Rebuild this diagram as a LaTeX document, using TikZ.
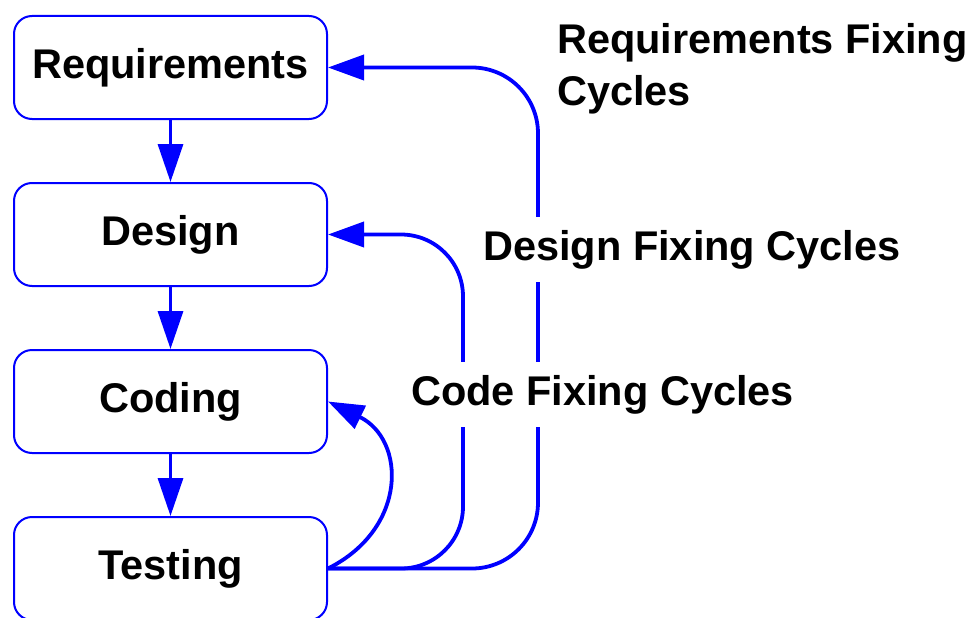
\documentclass[tikz,border=0pt]{standalone}
\usepackage{fontspec}
\setmainfont{Liberation Sans}
\usetikzlibrary{arrows.meta}
\begin{document}
\begin{tikzpicture}[x=1pt,y=-1pt,
  stage/.style={draw=blue, line width=2pt, rounded corners=18pt, minimum width=313pt, minimum height=103pt, inner sep=0pt,
    font=\bfseries\fontsize{41.5}{52}\selectfont},
  downarrow/.style={blue, line width=3.3pt, -{Triangle[length=38pt,width=25pt]}},
  fixarrow/.style={blue, line width=3.8pt, -{Triangle[length=36pt,width=25pt]}},
  cyclelabel/.style={fill=white, inner xsep=4pt, inner ysep=13pt, anchor=base west,
    font=\bfseries\fontsize{41.5}{52}\selectfont}]
\useasboundingbox (0,0) rectangle (974,618);
\clip (0,0) rectangle (974,618);
\node[stage] (req) at (170.5,67.5) {Requirements};
\node[stage] (des) at (170.5,234.5) {Design};
\node[stage] (cod) at (170.5,401.5) {Coding};
\node[stage] (tst) at (170.5,568.5) {Testing};
\draw[downarrow] (req.south) -- (des.north);
\draw[downarrow] (des.south) -- (cod.north);
\draw[downarrow] (cod.south) -- (tst.north);
\coordinate (rqx) at (538,0);
\coordinate (dsx) at (463,0);
\draw[fixarrow, rounded corners=66pt] (tst.east) -| (rqx |- req.east) -- (req.east);
\draw[fixarrow, rounded corners=62pt] (tst.east) -| (dsx |- des.east) -- (des.east);
\draw[fixarrow] (tst.east) .. controls +(80,-40) and +(78,38) .. (cod.east);
\node[cyclelabel, fill=none, anchor=north west, align=left, inner sep=0pt] (rql) at (557,23) {Requirements Fixing\\Cycles};
\node[cyclelabel] (dsl) at (479,260) {Design Fixing Cycles};
\node[cyclelabel] (cdl) at (407,405) {Code Fixing Cycles};
\end{tikzpicture}
\end{document}
